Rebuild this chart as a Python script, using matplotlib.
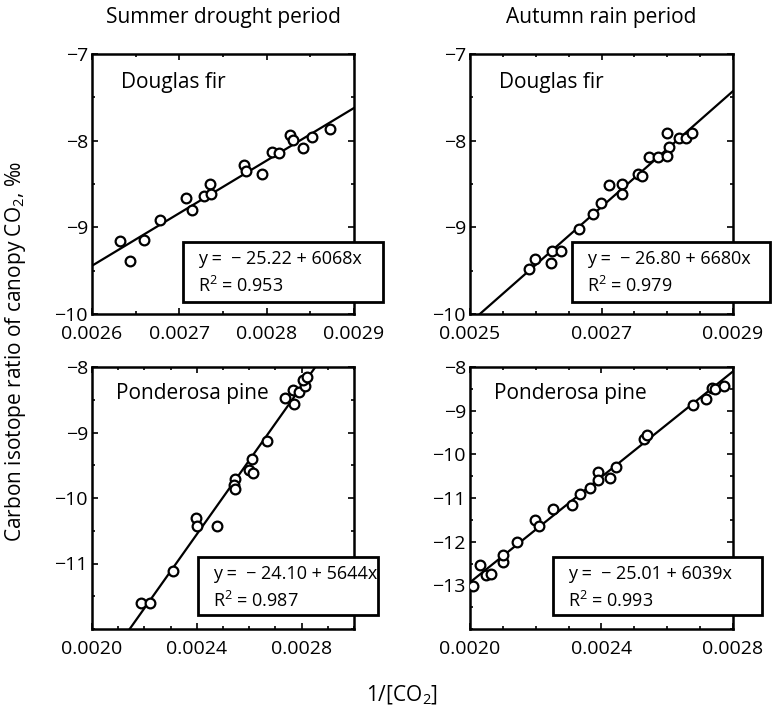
import numpy as np
import matplotlib.pyplot as plt
from matplotlib.patches import Rectangle
from matplotlib.ticker import MultipleLocator

plt.rcParams['font.family'] = ['Open Sans', 'DejaVu Sans']
plt.rcParams['mathtext.fontset'] = 'custom'
plt.rcParams['mathtext.rm'] = 'Open Sans'
plt.rcParams['mathtext.it'] = 'Open Sans:italic'

col_titles = ['Summer drought period', 'Autumn rain period']
species = ['Douglas fir', 'Douglas fir', 'Ponderosa pine', 'Ponderosa pine']

# 1/[CO2] and carbon isotope ratio
x_df_summer = [0.002632, 0.002644, 0.00266, 0.002678, 0.002708, 0.002715, 0.002728,
               0.002735, 0.002736, 0.002774, 0.002776, 0.002795, 0.002806, 0.002814,
               0.002827, 0.00283, 0.002842, 0.002852, 0.002873]
y_df_summer = [-9.16, -9.39, -9.15, -8.91, -8.66, -8.80, -8.64,
               -8.50, -8.61, -8.28, -8.35, -8.38, -8.13, -8.14,
               -7.93, -7.99, -8.09, -7.96, -7.86]

x_df_autumn = [0.002589, 0.002599, 0.002623, 0.002625, 0.002638, 0.002666, 0.002687,
               0.002699, 0.002711, 0.002731, 0.002731, 0.002756, 0.002762, 0.002773,
               0.002786, 0.0028, 0.002802, 0.0028, 0.002818, 0.002828, 0.002838]
y_df_autumn = [-9.48, -9.37, -9.41, -9.27, -9.27, -9.02, -8.85,
               -8.72, -8.51, -8.50, -8.61, -8.38, -8.41, -8.19,
               -8.19, -7.91, -8.07, -8.18, -7.97, -7.97, -7.91]

x_pp_summer = [0.002187, 0.002222, 0.002311, 0.002396, 0.002399, 0.002478, 0.002546,
               0.002542, 0.002544, 0.002599, 0.002611, 0.002614, 0.002668, 0.002738,
               0.002766, 0.00277, 0.002789, 0.002814, 0.002805, 0.00282]
y_pp_summer = [-11.61, -11.61, -11.12, -10.31, -10.42, -10.42, -9.71,
               -9.80, -9.87, -9.58, -9.40, -9.62, -9.13, -8.47,
               -8.35, -8.56, -8.38, -8.29, -8.20, -8.15]

x_pp_autumn = [0.002008, 0.00203, 0.002049, 0.002064, 0.002099, 0.002101, 0.002142,
               0.002197, 0.00221, 0.002253, 0.002309, 0.002334, 0.002365, 0.002388,
               0.00239, 0.002425, 0.002443, 0.002529, 0.002539, 0.002679, 0.002719,
               0.002736, 0.002746, 0.002772]
y_pp_autumn = [-13.01, -12.53, -12.76, -12.73, -12.46, -12.31, -12.00,
               -11.51, -11.64, -11.26, -11.17, -10.91, -10.76, -10.40,
               -10.59, -10.55, -10.28, -9.66, -9.55, -8.87, -8.74,
               -8.49, -8.51, -8.44]

# regression: intercept, slope, R2
intercepts = [-25.22, -26.80, -24.10, -25.01]
slopes = [6068, 6680, 5644, 6039]
r2 = [0.953, 0.979, 0.987, 0.993]

xs = [x_df_summer, x_df_autumn, x_pp_summer, x_pp_autumn]
ys = [y_df_summer, y_df_autumn, y_pp_summer, y_pp_autumn]

xlims = [(0.0026, 0.0029), (0.0025, 0.0029), (0.0020, 0.0030), (0.0020, 0.0028)]
ylims = [(-10, -7), (-10, -7), (-12, -8), (-14, -8)]
xticks = [[0.0026, 0.0027, 0.0028, 0.0029], [0.0025, 0.0027, 0.0029],
          [0.0020, 0.0024, 0.0028], [0.0020, 0.0024, 0.0028]]
xmin = [0.00005, 0.00005, 0.0001, 0.0001]
yticks = [[-10, -9, -8, -7], [-10, -9, -8, -7], [-11, -10, -9, -8],
          [-13, -12, -11, -10, -9, -8]]

W, H = 773, 717
fig = plt.figure(figsize=(W / 100, H / 100), dpi=100)

# axes boxes in pixels: left, top, right, bottom
ax_px = [(92, 54, 354, 314), (470, 54, 733, 314),
         (92, 367, 354, 629), (470, 367, 733, 629)]
# equation boxes in pixels: left, top, right, bottom
box_px = [(183, 242, 383, 302), (572, 242, 770, 302),
          (198, 557, 378, 615), (553, 557, 762, 615)]

for i in range(4):
    l, t, r, b = ax_px[i]
    ax = fig.add_axes([l / W, 1 - b / H, (r - l) / W, (b - t) / H])
    x0, x1 = xlims[i]
    xl = np.array([x0, x1])
    ax.plot(xl, intercepts[i] + slopes[i] * xl, color='black', lw=1.6, zorder=2)
    ax.plot(xs[i], ys[i], 'o', mfc='white', mec='black', ms=7, mew=1.6,
            linestyle='none', zorder=3)
    ax.set_xlim(xlims[i])
    ax.set_ylim(ylims[i])
    ax.set_xticks(xticks[i])
    ax.set_xticklabels(['%.4f' % v for v in xticks[i]])
    ax.xaxis.set_minor_locator(MultipleLocator(xmin[i]))
    ax.yaxis.set_minor_locator(MultipleLocator(0.5))
    ax.set_yticks(yticks[i])
    ax.set_yticklabels([('\u2212%d' % abs(v)) for v in yticks[i]])
    ax.tick_params(which='both', direction='in', top=True, right=True,
                   labelsize=14, width=1.2)
    ax.tick_params(which='major', length=4)
    ax.tick_params(axis='x', which='major', pad=8)
    ax.tick_params(axis='y', which='major', pad=3)
    ax.tick_params(which='minor', length=2.5)
    for s in ax.spines.values():
        s.set_linewidth(1.8)
    ax.text(0.09 if i >= 2 else 0.11, 0.89 if i < 2 else 0.9, species[i],
            transform=ax.transAxes, fontsize=15, va='center', ha='left')

    bl, bt, br, bb = box_px[i]
    rect = Rectangle((bl / W, 1 - bb / H), (br - bl) / W, (bb - bt) / H,
                     transform=fig.transFigure, fc='white', ec='black', lw=2,
                     zorder=5)
    fig.patches.append(rect)
    fig.text((bl + 15) / W, 1 - (bt + 17) / H,
             'y =  \u2212 %.2f + %dx' % (abs(intercepts[i]), slopes[i]),
             fontsize=13, va='center', ha='left', zorder=6)
    fig.text((bl + 15) / W, 1 - (bt + 44) / H, 'R$^2$ = %.3f' % r2[i],
             fontsize=13, va='center', ha='left', zorder=6)

fig.text(223 / W, 1 - 18 / H, col_titles[0], fontsize=15, ha='center', va='center')
fig.text(601 / W, 1 - 18 / H, col_titles[1], fontsize=15, ha='center', va='center')
fig.text(16 / W, 1 - 352 / H, 'Carbon isotope ratio of canopy CO$_2$, \u2030',
         rotation=90, fontsize=15, ha='center', va='center')
fig.text(402 / W, 1 - 695 / H, '1/[CO$_2$]', fontsize=15, ha='center', va='center')

fig.savefig('out.png', dpi=100)
